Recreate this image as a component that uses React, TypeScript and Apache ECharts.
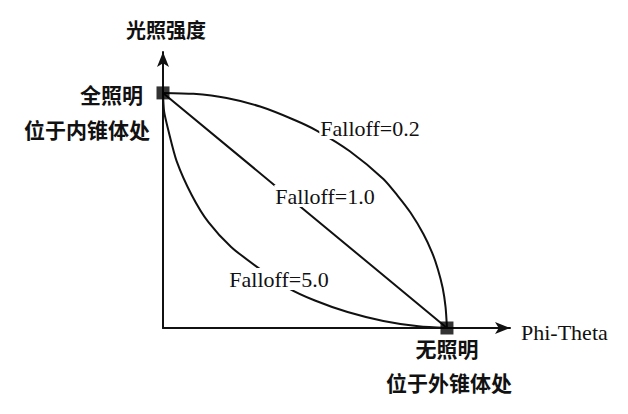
import React, { useEffect, useRef } from "react";
import * as echarts from "echarts";

// Curves: [Phi-Theta (0..1), intensity (0..1)]
const falloff02: number[][] = [
  [0, 1], [0.107, 0.996], [0.224, 0.978], [0.342, 0.942], [0.459, 0.887],
  [0.541, 0.84], [0.658, 0.752], [0.776, 0.634], [0.828, 0.56], [0.872, 0.49],
  [0.917, 0.4], [0.948, 0.32], [0.968, 0.25], [0.985, 0.17], [0.995, 0.09], [1, 0],
];
const falloff10: number[][] = [[0, 1], [0.5, 0.5], [1, 0]];
const falloff50: number[][] = [
  [0, 1], [0.004, 0.92], [0.019, 0.84], [0.048, 0.71], [0.101, 0.566],
  [0.16, 0.45], [0.24, 0.345], [0.348, 0.245], [0.441, 0.17], [0.535, 0.117],
  [0.65, 0.068], [0.776, 0.03], [0.9, 0.007], [1, 0],
];
const endPoints: number[][] = [[0, 1], [1, 0]];

const curveLabels = ["Falloff=0.2", "Falloff=1.0", "Falloff=5.0"];
const yAxisTitle = "光照强度";
const xAxisTitle = "Phi-Theta";
const innerLabel = ["全照明", "位于内锥体处"];
const outerLabel = ["无照明", "位于外锥体处"];

const serif = "'Times New Roman', 'Liberation Serif', serif";
const cjk = "'Noto Sans CJK SC', sans-serif";

export default function App() {
  const ref = useRef<HTMLDivElement>(null);
  useEffect(() => {
    if (!ref.current) return;
    const chart = echarts.init(ref.current, null, { renderer: "svg" });
    const lineStyle = { color: "#111", width: 2 };
    const curve = (data: number[][]) => ({
      type: "line",
      data,
      smooth: 0.25,
      showSymbol: false,
      symbol: "none",
      lineStyle,
      silent: true,
      z: 2,
    });
    const labelText = (text: string, x: number, y: number) => ({
      type: "text",
      x,
      y,
      z: 100,
      style: {
        text,
        fill: "#111",
        font: `22px ${serif}`,
        align: "center",
        verticalAlign: "middle",
        backgroundColor: "#fff",
        padding: [0, 1],
      },
    });
    const cjkText = (text: string, x: number, y: number, align: string, size = 21) => ({
      type: "text",
      x,
      y,
      z: 100,
      style: {
        text,
        fill: "#111",
        font: `bold ${size}px ${cjk}`,
        align,
        verticalAlign: "middle",
      },
    });
    chart.setOption({
      animation: false,
      backgroundColor: "#fff",
      grid: { left: 163, top: 52, right: 118, bottom: 86, containLabel: false },
      xAxis: {
        type: "value",
        min: 0,
        max: 1.222,
        axisLine: {
          show: true,
          onZero: false,
          symbol: ["none", "arrow"],
          symbolSize: [9, 15],
          lineStyle: { color: "#111", width: 2 },
        },
        axisTick: { show: false },
        axisLabel: { show: false },
        splitLine: { show: false },
      },
      yAxis: {
        type: "value",
        min: 0,
        max: 1.174,
        axisLine: {
          show: true,
          onZero: false,
          symbol: ["none", "arrow"],
          symbolSize: [9, 15],
          lineStyle: { color: "#111", width: 2 },
        },
        axisTick: { show: false },
        axisLabel: { show: false },
        splitLine: { show: false },
      },
      series: [
        curve(falloff02),
        curve(falloff10),
        curve(falloff50),
        {
          type: "scatter",
          data: endPoints,
          symbol: "rect",
          symbolSize: 13,
          itemStyle: { color: "#000" },
          silent: true,
          z: 5,
        },
      ],
      graphic: [
        labelText(curveLabels[0], 370, 128),
        labelText(curveLabels[1], 325, 196),
        labelText(curveLabels[2], 279, 279),
        {
          type: "text",
          x: 521,
          y: 332,
          z: 100,
          style: {
            text: xAxisTitle,
            fill: "#111",
            font: `22px ${serif}`,
            align: "left",
            verticalAlign: "middle",
          },
        },
        cjkText(yAxisTitle, 166, 29, "center", 20),
        cjkText(innerLabel[0], 143, 94, "right"),
        cjkText(innerLabel[1], 150, 129, "right"),
        cjkText(outerLabel[0], 447, 348, "center"),
        cjkText(outerLabel[1], 449, 382, "center"),
      ],
    });
    return () => chart.dispose();
  }, []);
  return (
    <div
      ref={ref}
      style={{ position: "absolute", left: 0, top: 0, width: 628, height: 414, background: "#fff" }}
    />
  );
}
